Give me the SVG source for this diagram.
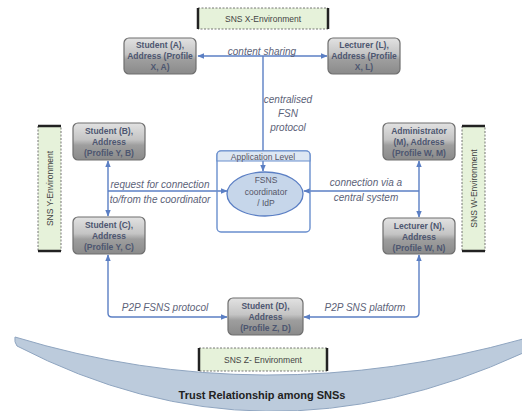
<svg xmlns="http://www.w3.org/2000/svg" width="522" height="411" viewBox="0 0 522 411">
  <style>
    .node rect { stroke: #6e6e6e; stroke-width: 1.2; fill: url(#gray); }
    .node text { font-family: "Liberation Sans", Arial, sans-serif; font-size: 8.5px; font-weight: bold; fill: #4d5670; text-anchor: middle; }
    .env .bg { fill: #e6f2da; stroke: #555; stroke-width: 0.8; stroke-dasharray: 2 1.5; }
    .env .edge { stroke: #222; stroke-width: 2.5; }
    .env text { font-family: "Liberation Sans", Arial, sans-serif; font-size: 8.5px; fill: #444; text-anchor: middle; }
    .conn path { fill: none; stroke: #5b7fc4; stroke-width: 1.4; }
    .lbl { font-family: "Liberation Sans", Arial, sans-serif; font-size: 10px; font-style: italic; fill: #5c6278; text-anchor: middle; }
    .app text { font-family: "Liberation Sans", Arial, sans-serif; font-size: 8.5px; fill: #556; text-anchor: middle; }
  </style>
  <defs>
    <linearGradient id="gray" x1="0" y1="0" x2="0" y2="1">
      <stop offset="0" stop-color="#e2e2e2"/>
      <stop offset="0.45" stop-color="#c4c4c4"/>
      <stop offset="0.6" stop-color="#9e9e9e"/>
      <stop offset="1" stop-color="#8a8a8a"/>
    </linearGradient>
    <marker id="ah" viewBox="0 0 10 10" refX="9" refY="5" markerWidth="5" markerHeight="5" orient="auto-start-reverse">
      <path d="M0,1 L10,5 L0,9 z" fill="#5b7fc4"/>
    </marker>
  </defs>

  <rect width="522" height="411" fill="#ffffff"/>

  <!-- trust crescent -->
  <g id="trust">
    <path d="M15,337 Q262,412 523,339 L523,353 Q262,473 17,346 Q14,342 15,337 Z" fill="#bccbdc" stroke="#8fa5c0" stroke-width="1"/>
  </g>

  <!-- environment labels -->
  <g id="env-x" class="env">
    <rect class="bg" x="198" y="8" width="130" height="21"/>
    <line class="edge" x1="198" y1="8" x2="198" y2="29"/>
    <line class="edge" x1="328" y1="8" x2="328" y2="29"/>
    <text x="263" y="22">SNS X-Environment</text>
  </g>
  <g id="env-z" class="env">
    <rect class="bg" x="199" y="348" width="128" height="23"/>
    <line class="edge" x1="199" y1="348" x2="199" y2="371"/>
    <line class="edge" x1="327" y1="348" x2="327" y2="371"/>
    <text x="263" y="363">SNS Z- Environment</text>
  </g>
  <g id="env-y" class="env">
    <rect class="bg" x="38" y="126" width="23" height="125"/>
    <line class="edge" x1="38" y1="126" x2="61" y2="126"/>
    <line class="edge" x1="38" y1="251" x2="61" y2="251"/>
    <text transform="translate(52.5,188.5) rotate(-90)">SNS Y-Environment</text>
  </g>
  <g id="env-w" class="env">
    <rect class="bg" x="462" y="126" width="23" height="125"/>
    <line class="edge" x1="462" y1="126" x2="485" y2="126"/>
    <line class="edge" x1="462" y1="251" x2="485" y2="251"/>
    <text transform="translate(476.5,188.5) rotate(-90)">SNS W-Environment</text>
  </g>

  <!-- connectors -->
  <g id="connectors" class="conn">
    <path d="M198,56 L327,56" marker-start="url(#ah)" marker-end="url(#ah)"/>
    <path d="M263,56 L263,171" marker-end="url(#ah)"/>
    <path d="M108,161 L108,216" marker-start="url(#ah)" marker-end="url(#ah)"/>
    <path d="M108,191 L227,191" marker-end="url(#ah)"/>
    <path d="M419,161 L419,217" marker-start="url(#ah)" marker-end="url(#ah)"/>
    <path d="M419,191 L304,191" marker-end="url(#ah)"/>
    <path d="M108,255 L108,313 Q108,317 112,317 L227,317" marker-start="url(#ah)" marker-end="url(#ah)"/>
    <path d="M419,255 L419,313 Q419,317 415,317 L304,317" marker-start="url(#ah)" marker-end="url(#ah)"/>
  </g>

  <!-- connector labels -->
  <g id="labels" class="lbl">
    <text x="262" y="55">content sharing</text>
    <text x="288" y="103">centralised</text>
    <text x="288" y="117">FSN</text>
    <text x="288" y="131">protocol</text>
    <text x="160" y="188">request for connection</text>
    <text x="160" y="203">to/from the coordinator</text>
    <text x="366" y="186">connection via a</text>
    <text x="366" y="201">central system</text>
    <text x="165" y="311">P2P FSNS protocol</text>
    <text x="365" y="311">P2P SNS platform</text>
  </g>

  <!-- coordinator -->
  <g id="application-level" class="app">
    <rect x="217" y="151" width="93" height="81" rx="4" fill="#ffffff" fill-opacity="0" stroke="#6a8fce" stroke-width="1.4"/>
    <path d="M217,161 L217,155 Q217,151 221,151 L306,151 Q310,151 310,155 L310,161 Z" fill="#dde7f3" stroke="#6a8fce" stroke-width="1.2"/>
    <text x="263" y="159.5">Application Level</text>
  </g>
  <g id="coordinator" class="app">
    <ellipse cx="265" cy="194" rx="38" ry="22" fill="#c6d6ea" stroke="#5b7fc4" stroke-width="1.3"/>
    <text x="266" y="183">FSNS</text>
    <text x="266" y="195">coordinator</text>
    <text x="266" y="206">/ IdP</text>
  </g>

  <!-- profiles -->
  <g id="student-a" class="node">
    <rect x="124" y="38" width="72" height="36" rx="5"/>
    <text x="160" y="48">Student (A),</text>
    <text x="160" y="59">Address (Profile</text>
    <text x="160" y="70">X, A)</text>
  </g>
  <g id="lecturer-l" class="node">
    <rect x="328" y="38" width="72" height="36" rx="5"/>
    <text x="364" y="48">Lecturer (L),</text>
    <text x="364" y="59">Address (Profile</text>
    <text x="364" y="70">X, L)</text>
  </g>
  <g id="student-b" class="node">
    <rect x="73" y="123" width="72" height="37" rx="5"/>
    <text x="109" y="134">Student (B),</text>
    <text x="109" y="145">Address</text>
    <text x="109" y="156">(Profile Y, B)</text>
  </g>
  <g id="student-c" class="node">
    <rect x="73" y="217" width="72" height="37" rx="5"/>
    <text x="109" y="228">Student (C),</text>
    <text x="109" y="239">Address</text>
    <text x="109" y="250">(Profile Y, C)</text>
  </g>
  <g id="administrator-m" class="node">
    <rect x="383" y="123" width="72" height="37" rx="5"/>
    <text x="419" y="134">Administrator</text>
    <text x="419" y="145">(M), Address</text>
    <text x="419" y="156">(Profile W, M)</text>
  </g>
  <g id="lecturer-n" class="node">
    <rect x="383" y="218" width="72" height="36" rx="5"/>
    <text x="419" y="229">Lecturer (N),</text>
    <text x="419" y="240">Address</text>
    <text x="419" y="251">(Profile W, N)</text>
  </g>
  <g id="student-d" class="node">
    <rect x="228" y="298" width="75" height="37" rx="5"/>
    <text x="265.5" y="309">Student (D),</text>
    <text x="265.5" y="320">Address</text>
    <text x="265.5" y="331">(Profile Z, D)</text>
  </g>

  <text x="262" y="399" font-family="Liberation Sans, Arial, sans-serif" font-size="11px" font-weight="bold" fill="#222" text-anchor="middle">Trust Relationship among SNSs</text>
</svg>
